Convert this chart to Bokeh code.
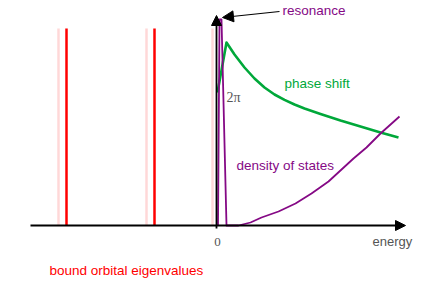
from bokeh.plotting import figure
from bokeh.models import Range1d, Arrow, NormalHead
from bokeh.core.properties import value
from bokeh.embed import file_html
from bokeh.resources import INLINE

# --- data (energy units, arbitrary height units) ---
bound_eigen = [-3.00, -1.24]            # red lines: bound orbital eigenvalues
free_eigen = [-3.16, -1.40, -0.08]      # pale pink lines
eigen_height = 0.985

dos_e = [0.03, 0.06, 0.10, 0.20, 0.44, 0.68, 0.90, 1.24, 1.58, 1.90, 2.24, 2.74, 3.00, 3.28, 3.66]
dos_v = [0.00, 1.03, 1.03, 0.00, 0.00, 0.015, 0.04, 0.07, 0.11, 0.16, 0.22, 0.335, 0.39, 0.46, 0.545]

phase_e = [0.02, 0.20, 0.36, 0.56, 0.76, 0.96, 1.16, 1.36, 1.56, 1.76, 2.08, 2.48, 2.88, 3.28, 3.64]
phase_v = [0.665, 0.915, 0.855, 0.79, 0.735, 0.69, 0.655, 0.628, 0.605, 0.585, 0.558, 0.525, 0.495, 0.465, 0.44]

axis_x = [-3.72, 3.78]
axis_y = [-0.015, 1.05]

RED = "#ff0000"
PINK = "#ffd8d8"
GREEN = "#00a83a"
PURPLE = "#850985"
GRAY = "#555555"
SANS = "Liberation Sans"
SERIF = "Liberation Serif"

p = figure(width=436, height=291, x_range=Range1d(-4.32, 4.40), y_range=Range1d(-0.33, 1.125),
           output_backend="svg", toolbar_location=None, min_border=0)
p.axis.visible = False
p.grid.visible = False
p.outline_line_color = None
p.background_fill_color = "white"

# eigenvalue lines
p.segment(x0=free_eigen, y0=[0] * len(free_eigen), x1=free_eigen, y1=[eigen_height] * len(free_eigen),
          line_color=PINK, line_width=2.5)
p.segment(x0=bound_eigen, y0=[0] * len(bound_eigen), x1=bound_eigen, y1=[eigen_height] * len(bound_eigen),
          line_color=RED, line_width=2.5)

# axes with arrow heads
p.add_layout(Arrow(end=NormalHead(size=10, fill_color="black", line_color="black"),
                   x_start=axis_x[0], y_start=0, x_end=axis_x[1], y_end=0,
                   line_color="black", line_width=1.8))
p.add_layout(Arrow(end=NormalHead(size=10, fill_color="black", line_color="black"),
                   x_start=0, y_start=axis_y[0], x_end=0, y_end=axis_y[1],
                   line_color="black", line_width=1.8))

# curves
p.line(phase_e, phase_v, line_color=GREEN, line_width=2.6, line_join="round")
p.line(dos_e, dos_v, line_color=PURPLE, line_width=1.8, line_join="round")

# resonance arrow
p.add_layout(Arrow(end=NormalHead(size=11, fill_color="black", line_color="black"),
                   x_start=1.26, y_start=1.07, x_end=0.12, y_end=1.04,
                   line_color="black", line_width=1.2))

# labels
def label(x, y, txt, color, font=SANS, size="13.5px", align="left"):
    p.text(x=[x], y=[y], text=[txt], text_color=color, text_font=value(font),
           text_font_size=size, text_baseline="middle", text_align=align)

label(1.32, 1.075, "resonance", PURPLE)
label(1.36, 0.71, "phase shift", GREEN)
label(0.20, 0.64, "2π", GRAY, font=SERIF, size="14px")
label(0.40, 0.30, "density of states", PURPLE)
label(3.12, -0.08, "energy", GRAY, size="13px")
label(0.02, -0.08, "0", GRAY, font=SERIF, size="13px", align="center")
label(-3.34, -0.225, "bound orbital eigenvalues", RED)

open("out.html", "w").write(file_html(p, INLINE))
